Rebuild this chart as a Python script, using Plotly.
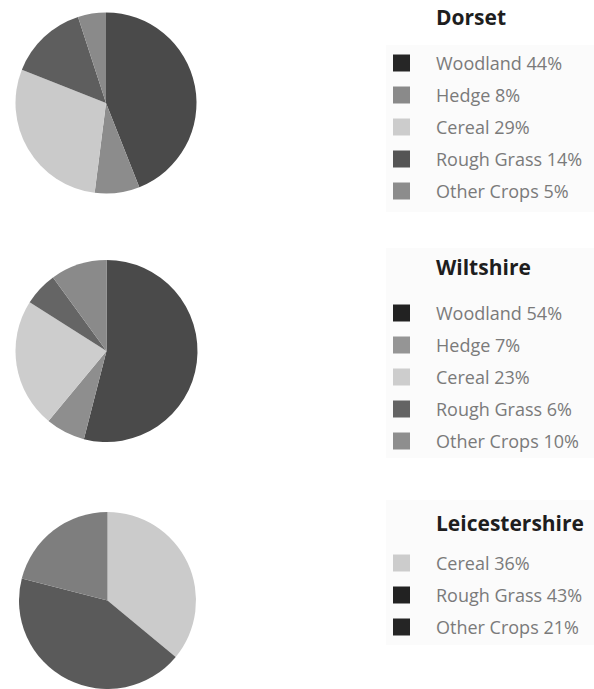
import plotly.graph_objects as go

W, H = 594, 689

# ---- data ----
dorset_labels = ["Woodland", "Hedge", "Cereal", "Rough Grass", "Other Crops"]
dorset_values = [44, 8, 29, 14, 5]
wilts_labels = ["Woodland", "Hedge", "Cereal", "Rough Grass", "Other Crops"]
wilts_values = [54, 7, 23, 6, 10]
leics_labels = ["Cereal", "Rough Grass", "Other Crops"]
leics_values = [36, 43, 21]
titles = ["Dorset", "Wiltshire", "Leicestershire"]

# ---- styles ----
dorset_colors = ["#4a4a4a", "#8c8c8c", "#cacaca", "#5e5e5e", "#8a8a8a"]
wilts_colors = ["#4a4a4a", "#8e8e8e", "#cdcdcd", "#656565", "#8a8a8a"]
leics_colors = ["#cbcbcb", "#5a5a5a", "#7e7e7e"]
dorset_sw = ["#262626", "#8a8a8a", "#cccccc", "#555555", "#8c8c8c"]
wilts_sw = ["#222222", "#959595", "#cdcdcd", "#646464", "#8e8e8e"]
leics_sw = ["#cccccc", "#222222", "#252525"]

# pixel boxes of pies (x0, x1, y0, y1) from top-left
pie_boxes = [(15.5, 196.5, 12.5, 193.5), (15.5, 197.5, 260, 442), (16, 199, 512, 689)]
# legend layout (title y, first row y) in px
leg_title_y = [17, 267, 523]
leg_row0_y = [63, 313, 563]
row_gap = 32

fig = go.Figure()
groups = [
    (dorset_labels, dorset_values, dorset_colors, dorset_sw),
    (wilts_labels, wilts_values, wilts_colors, wilts_sw),
    (leics_labels, leics_values, leics_colors, leics_sw),
]

shapes = []
annotations = []
panels = [(386, 594, 45, 212), (386, 594, 248, 458), (386, 594, 500, 645)]
for (px0, px1, py0, py1) in panels:
    shapes.append(dict(type="rect", xref="paper", yref="paper",
                       x0=px0 / W, x1=px1 / W, y0=1 - py1 / H, y1=1 - py0 / H,
                       fillcolor="#fbfbfb", line=dict(width=0), layer="below"))

for i, (labels, values, colors, sw) in enumerate(groups):
    x0, x1, y0, y1 = pie_boxes[i]
    fig.add_trace(go.Pie(
        labels=labels, values=values, sort=False, direction="clockwise", rotation=0,
        marker=dict(colors=colors, line=dict(width=0)),
        textinfo="none", showlegend=False,
        domain=dict(x=[x0 / W, x1 / W], y=[1 - y1 / H, 1 - y0 / H]),
    ))
    annotations.append(dict(text="<b>%s</b>" % titles[i], x=434 / W, y=1 - leg_title_y[i] / H,
                            xref="paper", yref="paper", xanchor="left", yanchor="middle",
                            showarrow=False, font=dict(family="Open Sans", size=21, color="#1e1e1e")))
    for j, (lab, val) in enumerate(zip(labels, values)):
        cy = leg_row0_y[i] + j * row_gap
        shapes.append(dict(type="rect", xref="paper", yref="paper",
                           x0=393 / W, x1=410 / W, y0=1 - (cy + 8.5) / H, y1=1 - (cy - 8.5) / H,
                           fillcolor=sw[j], line=dict(width=0)))
        annotations.append(dict(text="%s %d%%" % (lab, val), x=434 / W, y=1 - cy / H,
                                xref="paper", yref="paper", xanchor="left", yanchor="middle",
                                showarrow=False, font=dict(family="Open Sans", size=18, color="#7a7a7a")))

fig.update_layout(width=W, height=H, margin=dict(l=0, r=0, t=0, b=0),
                  paper_bgcolor="white", plot_bgcolor="white",
                  shapes=shapes, annotations=annotations)
fig.write_html("out.html")
